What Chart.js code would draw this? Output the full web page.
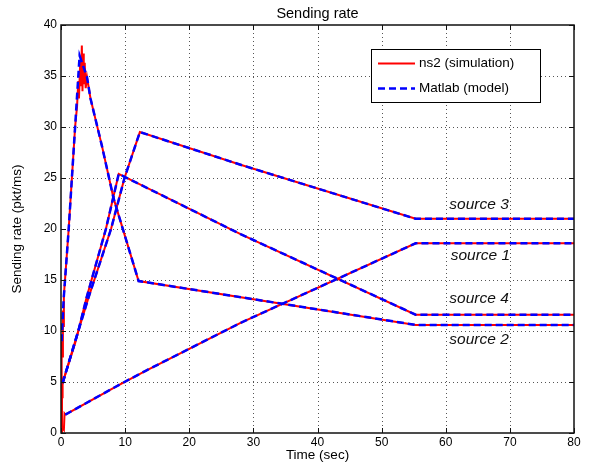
<!DOCTYPE html>
<html>
<head>
<meta charset="utf-8">
<script src="https://cdn.jsdelivr.net/npm/chart.js@4"></script>
<style>
  html, body { margin: 0; padding: 0; background: #fff; }
  canvas { display: block; }
</style>
</head>
<body>
<canvas id="chart" width="592" height="466"></canvas>
<script>
// sending rate of 4 sources, ns2 vs matlab model
const xTicks = [0, 10, 20, 30, 40, 50, 60, 70, 80];
const yTicks = [0, 5, 10, 15, 20, 25, 30, 35, 40];
const sourceNames = ["source 3", "source 1", "source 4", "source 2"];
const legendNames = ["ns2 (simulation)", "Matlab (model)"];

// [time sec, rate pkt/ms]
const src1Sim = [[0, 0], [0.08, 4.6], [0.14, 0.6], [0.45, 0.3], [0.55, 1.9], [0.67, 1.8], [9, 4.7], [13.2, 6.1], [28, 10.8], [55.3, 18.6], [80, 18.6]];
const src1Model = [[0.67, 1.8], [9, 4.7], [13.2, 6.1], [28, 10.8], [55.3, 18.6], [80, 18.6]];

const src2Sim = [[0, 0], [0.05, 6], [0.1, 3], [0.15, 9], [0.2, 7.5], [0.3, 12], [0.35, 10.5], [0.45, 13.5], [1.2, 20], [1.7, 25], [2.2, 30], [2.5, 32], [2.7, 34.5], [2.8, 32.8], [3.0, 36.5], [3.1, 34], [3.25, 38], [3.35, 33.5], [3.45, 37.2], [3.55, 34.2], [3.7, 36.3], [3.85, 33.8], [4.05, 34.9], [4.6, 32.8], [6.4, 28.1], [8.2, 23], [12.1, 14.9], [55.3, 10.6], [80, 10.6]];
const src2Model = [[0.1, 9], [0.4, 13], [1.2, 20], [1.7, 25], [2.2, 30], [2.9, 37], [4.05, 34.9], [4.6, 32.8], [6.4, 28.1], [8.2, 23], [12.1, 14.9], [55.3, 10.6], [80, 10.6]];

const src3Sim = [[0, 0], [0.1, 5.5], [0.18, 3.5], [0.25, 4.9], [2.7, 10], [4.3, 13.3], [7.8, 20], [9.9, 25], [12.3, 29.5], [28, 26.3], [55.3, 21], [80, 21]];
const src3Model = [[0.25, 4.9], [2.7, 10], [4.3, 13.3], [7.8, 20], [9.9, 25], [12.3, 29.5], [28, 26.3], [55.3, 21], [80, 21]];

const src4Sim = [[0, 0], [0.12, 5.2], [0.25, 4.9], [2.2, 8.8], [2.7, 10], [4.0, 13.3], [7.0, 20], [9.0, 25.4], [28, 19.5], [55.3, 11.6], [80, 11.6]];
const src4Model = [[0.25, 4.9], [2.7, 10], [4.0, 13.3], [7.0, 20], [9.0, 25.4], [28, 19.5], [55.3, 11.6], [80, 11.6]];

const FONT = "'Liberation Sans', Arial, Helvetica, sans-serif";
const RED = "#ff0000";
const BLUE = "#0000ff";

const toXY = arr => arr.map(p => ({ x: p[0], y: p[1] }));

const simLine = (arr) => ({
  data: toXY(arr),
  borderColor: RED,
  borderWidth: 2,
  pointRadius: 0,
  order: 2
});
const modelLine = (arr) => ({
  data: toXY(arr),
  borderColor: BLUE,
  borderWidth: 2.5,
  borderDash: [7, 4],
  pointRadius: 0,
  order: 1
});

const matlabFrame = {
  id: "matlabFrame",
  beforeDatasetsDraw(chart) {
    const { ctx, chartArea: a, scales: { x, y } } = chart;
    ctx.save();
    ctx.strokeStyle = "#555";
    ctx.lineWidth = 1;
    ctx.setLineDash([1, 3]);
    xTicks.slice(1, -1).forEach(v => {
      const px = Math.round(x.getPixelForValue(v)) + 0.5;
      ctx.beginPath(); ctx.moveTo(px, a.top); ctx.lineTo(px, a.bottom); ctx.stroke();
    });
    yTicks.slice(1, -1).forEach(v => {
      const py = Math.round(y.getPixelForValue(v)) + 0.5;
      ctx.beginPath(); ctx.moveTo(a.left, py); ctx.lineTo(a.right, py); ctx.stroke();
    });
    ctx.restore();
  },
  afterDatasetsDraw(chart) {
    const { ctx, chartArea: a, scales: { x, y } } = chart;
    ctx.save();
    // box + inward ticks
    ctx.strokeStyle = "#111";
    ctx.lineWidth = 1.5;
    ctx.strokeRect(a.left, a.top, a.right - a.left, a.bottom - a.top);
    ctx.lineWidth = 1;
    xTicks.forEach(v => {
      const px = Math.round(x.getPixelForValue(v)) + 0.5;
      ctx.beginPath();
      ctx.moveTo(px, a.bottom); ctx.lineTo(px, a.bottom - 5);
      ctx.moveTo(px, a.top); ctx.lineTo(px, a.top + 5);
      ctx.stroke();
    });
    yTicks.forEach(v => {
      const py = Math.round(y.getPixelForValue(v)) + 0.5;
      ctx.beginPath();
      ctx.moveTo(a.left, py); ctx.lineTo(a.left + 5, py);
      ctx.moveTo(a.right, py); ctx.lineTo(a.right - 5, py);
      ctx.stroke();
    });

    // source labels
    const spots = [[65.2, 22.4], [65.4, 17.4], [65.2, 13.2], [65.2, 9.1]];
    ctx.fillStyle = "#111";
    ctx.font = "italic 15.5px " + FONT;
    ctx.textAlign = "center";
    ctx.textBaseline = "middle";
    sourceNames.forEach((name, i) => {
      ctx.fillText(name, x.getPixelForValue(spots[i][0]), y.getPixelForValue(spots[i][1]));
    });

    // legend box
    const lx = 371, ly = 49, lw = 169, lh = 53;
    ctx.fillStyle = "#fff";
    ctx.fillRect(lx, ly, lw, lh);
    ctx.strokeStyle = "#000";
    ctx.lineWidth = 1;
    ctx.strokeRect(lx + 0.5, ly + 0.5, lw, lh);
    const rows = [[RED, [], 2, 63.5], [BLUE, [7, 4], 2.5, 88.5]];
    rows.forEach((r, i) => {
      ctx.strokeStyle = r[0];
      ctx.lineWidth = r[2];
      ctx.setLineDash(r[1]);
      ctx.beginPath(); ctx.moveTo(378, r[3]); ctx.lineTo(415, r[3]); ctx.stroke();
      ctx.setLineDash([]);
      ctx.fillStyle = "#000";
      ctx.font = "13.5px " + FONT;
      ctx.textAlign = "left";
      ctx.fillText(legendNames[i], 419, r[3]);
    });
    ctx.restore();
  }
};

new Chart(document.getElementById("chart"), {
  type: "line",
  data: {
    datasets: [
      simLine(src1Sim), simLine(src2Sim), simLine(src3Sim), simLine(src4Sim),
      modelLine(src1Model), modelLine(src2Model), modelLine(src3Model), modelLine(src4Model)
    ]
  },
  options: {
    responsive: false,
    animation: false,
    layout: { padding: { left: 0, right: 18, top: 0, bottom: 0 } },
    elements: { line: { tension: 0 } },
    plugins: {
      legend: { display: false },
      tooltip: { enabled: false },
      title: {
        display: true,
        text: "Sending rate",
        fullSize: false,
        color: "#000",
        font: { family: FONT, size: 14.5, weight: "normal", lineHeight: 1.2 },
        padding: { top: 5, bottom: 2.6 }
      }
    },
    scales: {
      x: {
        type: "linear",
        min: 0, max: 80,
        afterBuildTicks: s => { s.ticks = xTicks.map(v => ({ value: v })); },
        afterFit: s => { s.height = 33; },
        grid: { display: false, drawTicks: false },
        border: { display: false },
        ticks: { color: "#000", padding: 2, font: { family: FONT, size: 12 }, maxRotation: 0 },
        title: {
          display: true, text: "Time (sec)", color: "#000",
          font: { family: FONT, size: 13.5 }, padding: { top: 0, bottom: 3 }
        }
      },
      y: {
        min: 0, max: 40,
        afterBuildTicks: s => { s.ticks = yTicks.map(v => ({ value: v })); },
        afterFit: s => { s.width = 61; },
        grid: { display: false, drawTicks: false },
        border: { display: false },
        ticks: { color: "#000", padding: 4, font: { family: FONT, size: 12 } },
        title: {
          display: true, text: "Sending rate (pkt/ms)", color: "#000",
          font: { family: FONT, size: 13.5 }, padding: { top: 9, bottom: 0 }
        }
      }
    }
  },
  plugins: [matlabFrame]
});
</script>
</body>
</html>
